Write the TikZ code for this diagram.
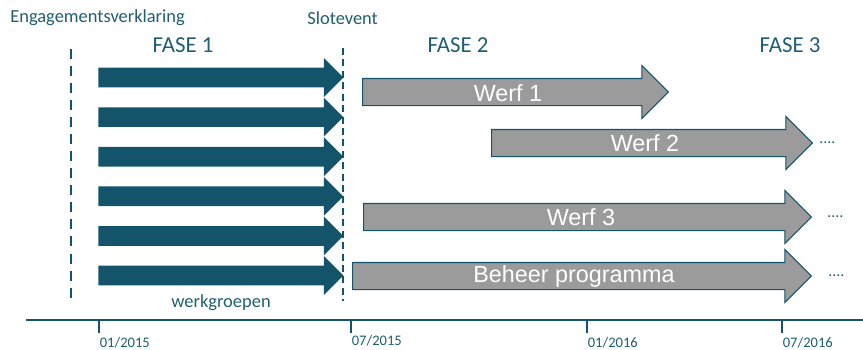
\documentclass[tikz,border=0pt]{standalone}
\usepackage{fontspec}
\setmainfont{Carlito}
\newfontfamily\arialfont{Liberation Sans}
\usepackage{tikz}
\usetikzlibrary{shapes.arrows}
\definecolor{donker}{HTML}{13546B}
\definecolor{tekst}{HTML}{205E73}
\definecolor{grijs}{HTML}{9B9B9B}

\begin{document}
\begin{tikzpicture}[x=0.02cm, y=-0.02cm, every path/.style={line cap=butt}]

        \useasboundingbox (0,0) rectangle (863,349);

        \tikzset{werkpijl/.style = {single arrow, fill=donker, inner xsep=0pt, inner ysep=0.19cm, minimum width=0.76cm, single arrow head extend=0.19cm, minimum height=4.9cm, anchor=tail}}
        \tikzset{werfpijl/.style = {single arrow, fill=grijs, draw=donker, line width=0.6pt, inner xsep=0pt, inner ysep=0.26cm, minimum width=1.04cm, single arrow head extend=0.26cm, anchor=tail}}
        \tikzset{kop/.style = {text=tekst, inner sep=0pt, font=\fontsize{10.5}{12}\selectfont}}
        \tikzset{fase/.style = {text=tekst, inner sep=0pt, font=\fontsize{13}{15}\selectfont}}
        \tikzset{werf/.style = {text=white, inner sep=0pt, font=\arialfont\fontsize{13.3}{15}\selectfont}}
        \tikzset{datum/.style = {text=tekst, inner sep=0pt, anchor=north west, font=\fontsize{8.3}{10}\selectfont}}
        \tikzset{punten/.style = {text=tekst, inner sep=0pt, font=\fontsize{9}{10}\selectfont}}

        \node[kop, anchor=west] (engagement) at (10,18) {Engagementsverklaring};
        \node[kop, anchor=west] (slot) at (307,18) {Slotevent};

        \node[fase] (fase1) at (183,45) {FASE 1};
        \node[fase] (fase2) at (458,45) {FASE 2};
        \node[fase] (fase3) at (790,45) {FASE 3};

        % werkgroepen
        \foreach \i in {0,...,5}
            \node[werkpijl] (wg\i) at (98,77.5+39.6*\i) {};
        \node[kop] (werkgroepen) at (221,303) {werkgroepen};

        \draw[donker, line width=1.2pt, dash pattern=on 5.7pt off 4pt] (71,49) -- (71,300);
        \draw[donker, line width=1.1pt, dash pattern=on 4pt off 2.5pt] (343,48) -- (343,301);

        \node[werfpijl, minimum height=6.12cm] (werf1) at (362,92) {};
        \node[werfpijl, minimum height=6.42cm] (werf2) at (491,143) {};
        \node[werfpijl, minimum height=8.96cm] (werf3) at (363,217) {};
        \node[werfpijl, minimum height=9.18cm] (beheer) at (352,276) {};

        \node[werf] (t1) at (508,93) {Werf 1};
        \node[werf] (t2) at (645,143) {Werf 2};
        \node[werf] (t3) at (581,217) {Werf 3};
        \node[werf] (t4) at (574,276) {Beheer programma};

        \node[punten, anchor=west] (p2) at (819,143) {....};
        \node[punten, anchor=west] (p3) at (827,217) {....};
        \node[punten, anchor=west] (p4) at (828,276) {....};

        % tijdlijn
        \draw[donker, line width=0.6pt] (26,320) -- (863,320);
        \foreach \x/\y/\d in {99/337/{01/2015}, 351/335/{07/2015}, 587/337/{01/2016}, 782/337/{07/2016}}{
            \draw[donker, line width=0.6pt] (\x,320) -- (\x,333);
            \node[datum] (d\x) at (\x+0.5,\y) {\d};
        }
	\end{tikzpicture}
\end{document}
